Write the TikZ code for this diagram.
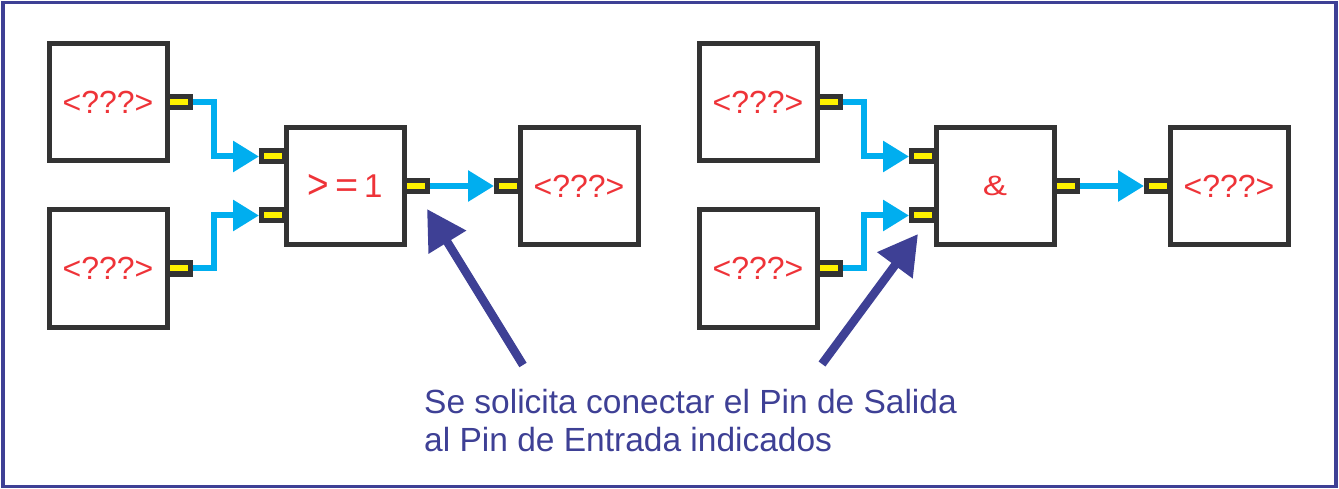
\documentclass[tikz,border=0pt]{standalone}
\usepackage{fontspec}
\setmainfont{Liberation Sans}
\usetikzlibrary{arrows.meta}
\definecolor{navy}{HTML}{3E4095}
\definecolor{boxgray}{HTML}{333333}
\definecolor{pinyel}{HTML}{FFF200}
\definecolor{wirecyan}{HTML}{00AEEF}
\definecolor{txtred}{HTML}{EE3338}
\tikzset{
  blk/.style={draw=boxgray, line width=5pt, rectangle, minimum width=118pt, minimum height=117pt, inner sep=0pt,
    text=txtred, font=\fontsize{32}{36}\selectfont},
  pin/.style={draw=boxgray, fill=pinyel, line width=5pt, rectangle, minimum width=23pt, minimum height=11pt, inner sep=0pt},
  conn/.style={draw=wirecyan, line width=6pt, -{Triangle[length=26pt,width=30pt]}},
  big/.style={draw=navy, line width=8.5pt, -{Triangle[length=39pt,width=42pt]}},
}
\begin{document}
\begin{tikzpicture}[x=1pt,y=-1pt]
\useasboundingbox (0,0) rectangle (1339,489);
\draw[navy, line width=3.5pt] (3,2.5) rectangle (1336,486.5);

% left group
\node[blk] (A) at (108,102.5) {<???>};
\node[blk] (B) at (108,268.5) {<???>};
\node[blk] (OR) at (345,186) {\fontsize{33}{36}\selectfont \raisebox{-1pt}{\scalebox{1.12}[1.25]{>}}\kern6pt\scalebox{1.2}[1.1]{=}\kern6pt1};
\node[blk] (O1) at (579,186) {<???>};
\node[pin] (pA) at (179,102.5) {};
\node[pin] (pB) at (179,268.5) {};
\node[pin] (pOR1) at (273,156.5) {};
\node[pin] (pOR2) at (273,215.5) {};
\node[pin] (pORo) at (416,186) {};
\node[pin] (pO1) at (508,186) {};
\draw[conn] (pA.east) -- ++(21,0) |- (pOR1.west);
\draw[conn] (pB.east) -- ++(21,0) |- (pOR2.west);
\draw[conn] (pORo.east) -- (pO1.west);

% right group
\node[blk] (C) at (758,102.5) {<???>};
\node[blk] (D) at (758,268.5) {<???>};
\node[blk] (AND) at (995,186) {\fontsize{28}{32}\selectfont\scalebox{1.3}[1]{\&}};
\node[blk] (O2) at (1229,186) {<???>};
\node[pin] (pC) at (829,102.5) {};
\node[pin] (pD) at (829,268.5) {};
\node[pin] (pAND1) at (923,156.5) {};
\node[pin] (pAND2) at (923,215.5) {};
\node[pin] (pANDo) at (1066,186) {};
\node[pin] (pO2) at (1158,186) {};
\draw[conn] (pC.east) -- ++(21,0) |- (pAND1.west);
\draw[conn] (pD.east) -- ++(21,0) |- (pAND2.west);
\draw[conn] (pANDo.east) -- (pO2.west);

% pointer arrows and note
\coordinate (t1) at (523,365);
\coordinate (h1) at (427,209);
\coordinate (t2) at (822,364);
\coordinate (h2) at (918,234);
\draw[big] (t1) -- (h1);
\draw[big] (t2) -- (h2);
\node[anchor=north west, inner sep=0pt, align=left, text=navy, font=\fontsize{33.5}{38}\selectfont] (note) at (424,389)
  {Se solicita conectar el Pin de Salida\\al Pin de Entrada indicados};
\end{tikzpicture}
\end{document}
